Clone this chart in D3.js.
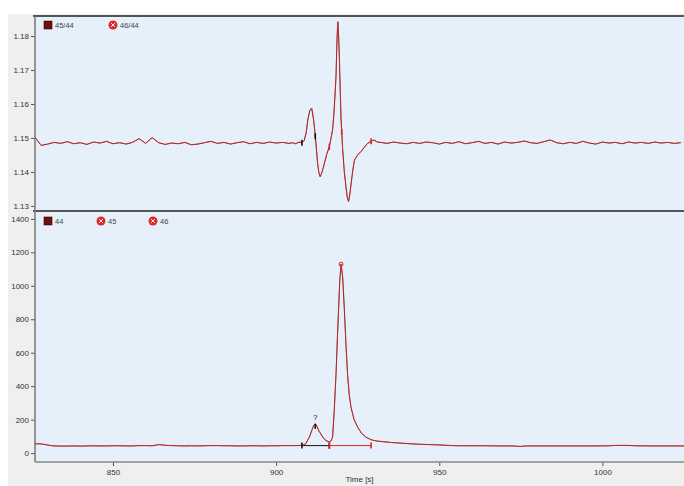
<!DOCTYPE html>
<html>
<head>
<meta charset="utf-8">
<script src="https://cdn.jsdelivr.net/npm/d3@7"></script>
<style>
  body { margin: 0; background: #fff; }
  svg { display: block; font-family: "Liberation Sans", Arial, sans-serif; }
</style>
</head>
<body>
<svg id="chart" width="684" height="486"></svg>
<script>
// ratio trace (time [s], ratio) - 45/44 and 46/44 overlap
const ratioTrace = [
  [826,1.1503],[828,1.1478],[830,1.1482],[832,1.1487],[834,1.1484],[836,1.1489],[838,1.1483],[840,1.1486],
  [842,1.1481],[844,1.1488],[846,1.1485],[848,1.1490],[850,1.1483],[852,1.1486],[854,1.1482],[856,1.1487],
  [858,1.1498],[860,1.1484],[862,1.1501],[864,1.1486],[866,1.1481],[868,1.1485],[870,1.1483],[872,1.1487],
  [874,1.1480],[876,1.1482],[878,1.1486],[880,1.1490],[882,1.1484],[884,1.1487],[886,1.1482],[888,1.1486],
  [890,1.1489],[892,1.1483],[894,1.1487],[896,1.1484],[898,1.1488],[900,1.1485],[902,1.1487],[904,1.1484],
  [905,1.1486],[906,1.1483],[907,1.1488],[907.9,1.1486],[908.6,1.1492],[909.2,1.1515],[909.7,1.1553],
  [910.3,1.1580],[910.9,1.1588],[911.5,1.1553],[911.9,1.1515],[912.2,1.1484],[912.7,1.1426],[913.1,1.1398],
  [913.5,1.1386],[914.1,1.1400],[914.8,1.1426],[915.5,1.1452],[916.3,1.1474],[916.8,1.1498],[917.3,1.1524],
  [917.7,1.1570],[918.0,1.1620],[918.35,1.1680],[918.65,1.1790],[918.9,1.1842],[919.15,1.1800],[919.4,1.1730],
  [919.65,1.1640],[919.9,1.1553],[920.4,1.1465],[920.9,1.1400],[921.4,1.1357],[921.8,1.1325],[922.2,1.1313],
  [922.6,1.1335],[923.0,1.1367],[923.5,1.1405],[924.0,1.1435],[925.0,1.1450],[926.0,1.1460],[927.0,1.1472],
  [928.0,1.1484],[929.1,1.1490],[930,1.1494],[931,1.1488],
  [932,1.1487],[934,1.1484],[936,1.1488],[938,1.1485],[940,1.1483],[942,1.1487],[944,1.1484],[946,1.1488],
  [948,1.1486],[950,1.1482],[952,1.1487],[954,1.1484],[956,1.1489],[958,1.1483],[960,1.1486],[962,1.1490],
  [964,1.1484],[966,1.1487],[968,1.1482],[970,1.1488],[972,1.1485],[974,1.1487],[976,1.1491],[978,1.1486],
  [980,1.1484],[982,1.1489],[984,1.1494],[986,1.1486],[988,1.1483],[990,1.1487],[992,1.1484],[994,1.1490],
  [996,1.1485],[998,1.1482],[1000,1.1488],[1002,1.1485],[1004,1.1487],[1006,1.1483],[1008,1.1488],[1010,1.1485],
  [1012,1.1487],[1014,1.1484],[1016,1.1488],[1018,1.1485],[1020,1.1487],[1022,1.1484],[1024,1.1486]
];

// intensity trace (time [s], signal) - 44, 45, 46 overlap
const intensityTrace = [
  [826,54],[827,56],[828,55],[829,52],[830,48],[831,45],[832,43],[834,42],[836,42],[838,43],[840,42],
  [842,43],[844,44],[846,43],[848,43],[850,44],[852,44],[854,43],[856,43],[858,45],[860,45],[862,44],
  [863,47],[864,51],[865,49],[866,47],[868,45],[870,44],[872,43],[874,44],[876,43],[878,44],[880,45],
  [882,45],[884,44],[886,44],[888,43],[890,43],[892,44],[894,44],[896,43],[898,44],[900,44],[902,45],
  [904,45],[906,45],[907.9,46],
  [909,54],[910.2,96],[911,140],[911.6,168],[912.0,175],[912.5,160],[913.2,130],[914.3,96],[915.2,76],
  [916.3,66],[916.8,72],[917.3,96],[917.8,250],[918.35,470],[918.8,700],[919.15,863],[919.5,1030],
  [919.9,1129],[920.4,1050],[920.9,863],[921.4,650],[921.9,470],[922.4,350],[922.95,273],[923.9,200],
  [925.0,155],[926.2,118],[927.5,96],[929.1,80],[930,76],[931,72],[933,68],[935,64],[938,60],[941,56],
  [944,53],[947,51],[950,49],[952,47],[954,45],[957,44],[960,44],[964,44],[968,43],[972,43],[974,41],
  [975,40],[976,42],[978,43],[982,43],[986,43],[990,43],[994,43],[998,43],[1002,44],[1004,46],[1008,46],
  [1010,44],[1014,43],[1018,43],[1022,43],[1025,43]
];

const ratioTicks = [1.13, 1.14, 1.15, 1.16, 1.17, 1.18];
const intensityTicks = [0, 200, 400, 600, 800, 1000, 1200, 1400];
const timeTicks = [850, 900, 950, 1000];
const ratioLegend = ["45/44", "46/44"];
const intensityLegend = ["44", "45", "46"];

// integration marks: start / apex / end of each peak, baseline level
const peaks = [
  { start: 907.9, apex: 912.0, end: 916.3, base: 45, color: "#111", label: "?" },
  { start: 916.3, apex: 919.9, end: 929.1, base: 45, color: "#e02020", label: "" }
];
const ratioMarks = [
  { t: 907.9, color: "#111" }, { t: 912.0, color: "#111" },
  { t: 916.3, color: "#e02020" }, { t: 920.1, color: "#e02020" }, { t: 929.1, color: "#e02020" }
];

const W = 684, H = 486;
const plotL = 35, plotR = 684, plotT = 16, plotMid = 211, plotB = 462;
const darkRed = "#6e1010", red = "#e02a2a";

const svg = d3.select("#chart");
svg.append("rect").attr("width", W).attr("height", H).attr("fill", "#fff");
svg.append("rect").attr("x", 8).attr("y", 14).attr("width", W - 8).attr("height", H - 14).attr("fill", "#efefef");
svg.append("rect").attr("x", plotL).attr("y", plotT).attr("width", plotR - plotL).attr("height", plotB - plotT).attr("fill", "#e6f0fb");

const x = d3.scaleLinear().domain([826.1, 1025]).range([plotL, plotR]);
const yR = d3.scaleLinear().domain([1.1285, 1.1859]).range([plotMid, plotT]);
const yI = d3.scaleLinear().domain([-53, 1447]).range([plotB, plotMid]);

const defs = svg.append("defs");
defs.append("clipPath").attr("id", "clipTop").append("rect")
  .attr("x", plotL).attr("y", plotT).attr("width", plotR - plotL).attr("height", plotMid - plotT);
defs.append("clipPath").attr("id", "clipBot").append("rect")
  .attr("x", plotL).attr("y", plotMid).attr("width", plotR - plotL).attr("height", plotB - plotMid);

function styleAxis(g) {
  g.select(".domain").remove();
  g.selectAll(".tick line").attr("stroke", "#555");
  g.selectAll(".tick text").attr("fill", "#333").style("font-size", "8px");
}

svg.append("g").attr("transform", `translate(${plotL},0)`)
  .call(d3.axisLeft(yR).tickValues(ratioTicks).tickFormat(d3.format(".2f")).tickSize(4).tickPadding(2))
  .call(styleAxis);
svg.append("g").attr("transform", `translate(${plotL},0)`)
  .call(d3.axisLeft(yI).tickValues(intensityTicks).tickFormat(d => String(d)).tickSize(4).tickPadding(2))
  .call(styleAxis);
svg.append("g").attr("transform", `translate(0,${plotB})`)
  .call(d3.axisBottom(x).tickValues(timeTicks).tickFormat(d => String(d)).tickSize(4).tickPadding(3))
  .call(styleAxis);

svg.append("text").attr("x", (plotL + plotR) / 2).attr("y", 482).attr("text-anchor", "middle")
  .attr("fill", "#333").style("font-size", "8px").text("Time [s]");

// traces
const lineR = d3.line().x(d => x(d[0])).y(d => yR(d[1]));
const lineI = d3.line().x(d => x(d[0])).y(d => yI(d[1]));
const topG = svg.append("g").attr("clip-path", "url(#clipTop)");
const botG = svg.append("g").attr("clip-path", "url(#clipBot)");

topG.append("path").datum(ratioTrace).attr("d", lineR)
  .attr("fill", "none").attr("stroke", "#7a2020").attr("stroke-width", 1);
topG.append("path").datum(ratioTrace).attr("d", lineR)
  .attr("fill", "none").attr("stroke", red).attr("stroke-width", 0.8).attr("opacity", 0.75);

// integration baselines
botG.selectAll("line.base").data(peaks).join("line").attr("class", "base")
  .attr("x1", d => x(d.start)).attr("x2", d => x(d.end))
  .attr("y1", d => yI(d.base)).attr("y2", d => yI(d.base))
  .attr("stroke", d => d.color).attr("stroke-width", 1);

botG.append("path").datum(intensityTrace).attr("d", lineI)
  .attr("fill", "none").attr("stroke", "#7a2020").attr("stroke-width", 1);
botG.append("path").datum(intensityTrace).attr("d", lineI)
  .attr("fill", "none").attr("stroke", red).attr("stroke-width", 0.8).attr("opacity", 0.75);

// marks on traces
const valueAt = (trace, t) => {
  const i = d3.bisector(d => d[0]).left(trace, t);
  if (i <= 0) return trace[0][1];
  const a = trace[i - 1], b = trace[Math.min(i, trace.length - 1)];
  return b[0] === a[0] ? a[1] : a[1] + (b[1] - a[1]) * (t - a[0]) / (b[0] - a[0]);
};
topG.selectAll("line.mark").data(ratioMarks).join("line").attr("class", "mark")
  .attr("x1", d => x(d.t)).attr("x2", d => x(d.t))
  .attr("y1", d => yR(valueAt(ratioTrace, d.t)) - 3).attr("y2", d => yR(valueAt(ratioTrace, d.t)) + 3)
  .attr("stroke", d => d.color).attr("stroke-width", 1.6);

peaks.forEach(p => {
  [p.start, p.end].forEach(t => {
    botG.append("line").attr("x1", x(t)).attr("x2", x(t))
      .attr("y1", yI(p.base) - 3).attr("y2", yI(p.base) + 3)
      .attr("stroke", p.color).attr("stroke-width", 1.6);
  });
  const ay = yI(valueAt(intensityTrace, p.apex));
  if (p.label) {
    botG.append("line").attr("x1", x(p.apex)).attr("x2", x(p.apex))
      .attr("y1", ay).attr("y2", ay + 5).attr("stroke", p.color).attr("stroke-width", 1.6);
    botG.append("text").attr("x", x(p.apex)).attr("y", ay - 4).attr("text-anchor", "middle")
      .attr("fill", "#222").style("font-size", "8px").text(p.label);
  } else {
    botG.append("circle").attr("cx", x(p.apex)).attr("cy", ay).attr("r", 2)
      .attr("fill", "none").attr("stroke", p.color).attr("stroke-width", 1);
  }
});

// frame lines
svg.append("line").attr("x1", plotL - 2).attr("x2", plotR).attr("y1", plotT).attr("y2", plotT)
  .attr("stroke", "#555").attr("stroke-width", 2);
svg.append("line").attr("x1", plotL - 2).attr("x2", plotR).attr("y1", plotMid).attr("y2", plotMid)
  .attr("stroke", "#555").attr("stroke-width", 2);
svg.append("line").attr("x1", plotL).attr("x2", plotR).attr("y1", plotB).attr("y2", plotB)
  .attr("stroke", "#888").attr("stroke-width", 1.5);
svg.append("line").attr("x1", plotL).attr("x2", plotL).attr("y1", plotT).attr("y2", plotB)
  .attr("stroke", "#777").attr("stroke-width", 1.5);

// legends
function legend(names, y, xs) {
  const g = svg.append("g");
  names.forEach((name, i) => {
    const cx = xs[i];
    if (i === 0) {
      g.append("rect").attr("x", cx - 4).attr("y", y - 4).attr("width", 8).attr("height", 8)
        .attr("fill", darkRed).attr("stroke", "#3a0000").attr("stroke-width", 0.6);
    } else {
      g.append("circle").attr("cx", cx).attr("cy", y).attr("r", 4.5).attr("fill", red);
      g.append("path").attr("d", `M${cx - 1.8},${y - 1.8}L${cx + 1.8},${y + 1.8}M${cx + 1.8},${y - 1.8}L${cx - 1.8},${y + 1.8}`)
        .attr("stroke", "#fff").attr("stroke-width", 1);
    }
    g.append("text").attr("x", cx + 7).attr("y", y + 3).attr("fill", "#444")
      .style("font-size", "7.5px").text(name);
  });
}
legend(ratioLegend, 25, [48, 113]);
legend(intensityLegend, 221, [48, 101, 153]);
</script>
</body>
</html>
